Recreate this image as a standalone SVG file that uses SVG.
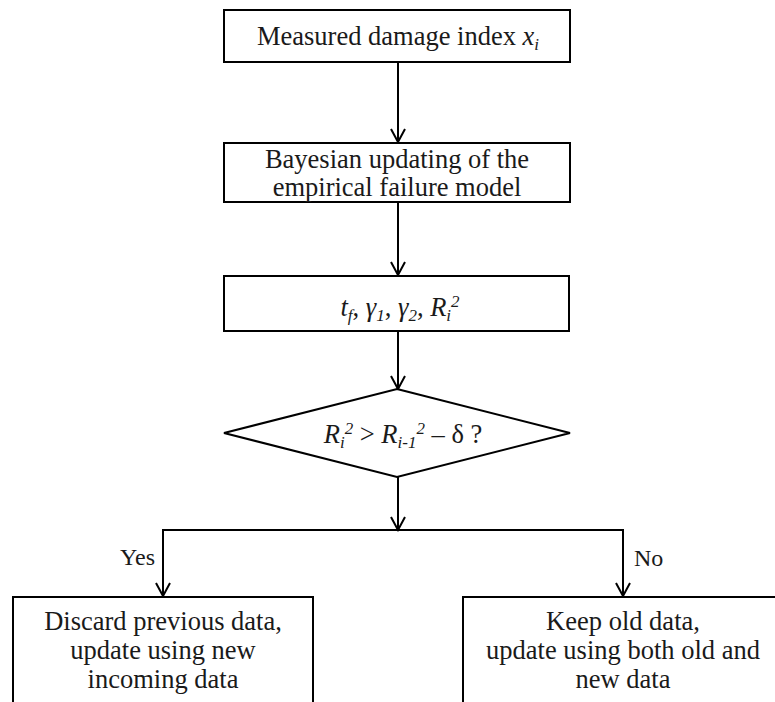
<svg xmlns="http://www.w3.org/2000/svg" width="775" height="702" viewBox="0 0 775 702">
  <style>
    .box { fill: #ffffff; stroke: #000000; stroke-width: 2; }
    .edge { fill: none; stroke: #000000; stroke-width: 2; }
    .head { fill: none; stroke: #000000; stroke-width: 2; stroke-linejoin: miter; }
    .c { text-anchor: middle; }
    .it { font-style: italic; }
    .sm { font-size: 17px; }
    .lbl { font-size: 24px; }
  </style>
  <defs>
    <marker id="vee" viewBox="0 0 16 16" refX="14" refY="8" markerWidth="16" markerHeight="16" markerUnits="userSpaceOnUse" orient="auto">
      <path class="head" d="M1,1 L14,8 L1,15"/>
    </marker>
  </defs>

  <g font-family="'Liberation Serif', 'DejaVu Serif', serif" font-size="26.5" fill="#1a1a1a">
  <!-- connectors -->
  <g id="connectors">
    <line class="edge" x1="398" y1="62" x2="398" y2="142" marker-end="url(#vee)"/>
    <line class="edge" x1="398" y1="202" x2="398" y2="275" marker-end="url(#vee)"/>
    <line class="edge" x1="398" y1="331" x2="398" y2="389" marker-end="url(#vee)"/>
    <line class="edge" x1="398" y1="477" x2="398" y2="530" marker-end="url(#vee)"/>
    <polyline class="edge" points="163,596 163,530 623,530 623,596"/>
    <line class="edge" x1="163" y1="560" x2="163" y2="596" marker-end="url(#vee)"/>
    <line class="edge" x1="623" y1="560" x2="623" y2="596" marker-end="url(#vee)"/>
    <text x="155" y="565" class="lbl" text-anchor="end">Yes</text>
    <text x="634" y="566" class="lbl">No</text>
  </g>

  <g id="measured">
    <rect class="box" x="224" y="10" width="346" height="52"/>
    <text x="398" y="45" class="c">Measured damage index <tspan class="it">x</tspan><tspan class="it sm" dy="5">i</tspan></text>
  </g>

  <g id="bayes">
    <rect class="box" x="224" y="143" width="346" height="59"/>
    <text x="397" y="168" class="c">Bayesian updating of the</text>
    <text x="397" y="196" class="c">empirical failure model</text>
  </g>

  <g id="params">
    <rect class="box" x="224" y="276" width="345" height="55"/>
    <text x="400" y="316" class="c"><tspan class="it">t</tspan><tspan class="it sm" dy="5">f</tspan><tspan dy="-5">, </tspan><tspan class="it">γ</tspan><tspan class="it sm" dy="5">1</tspan><tspan dy="-5">, </tspan><tspan class="it">γ</tspan><tspan class="it sm" dy="5">2</tspan><tspan dy="-5">, </tspan><tspan class="it">R</tspan><tspan class="it sm" dy="5">i</tspan><tspan class="it sm" dy="-14">2</tspan></text>
  </g>

  <g id="check">
    <polygon class="box" points="397,389 570,433 397,477 224,433"/>
    <text x="403" y="443" class="c"><tspan class="it">R</tspan><tspan class="it sm" dy="5">i</tspan><tspan class="it sm" dy="-14">2</tspan><tspan dy="9"> &gt; </tspan><tspan class="it">R</tspan><tspan class="it sm" dy="5">i-1</tspan><tspan class="it sm" dy="-14">2</tspan><tspan dy="9"> – δ ?</tspan></text>
  </g>

  <g id="discard">
    <rect class="box" x="13" y="597" width="300" height="120"/>
    <text x="163" y="630" class="c">Discard previous data,</text>
    <text x="163" y="659" class="c">update using new</text>
    <text x="163" y="688" class="c">incoming data</text>
  </g>

  <g id="keep">
    <rect class="box" x="463" y="597" width="320" height="120"/>
    <text x="623" y="630" class="c">Keep old data,</text>
    <text x="623" y="659" class="c">update using both old and</text>
    <text x="623" y="688" class="c">new data</text>
  </g>
  </g>
</svg>
